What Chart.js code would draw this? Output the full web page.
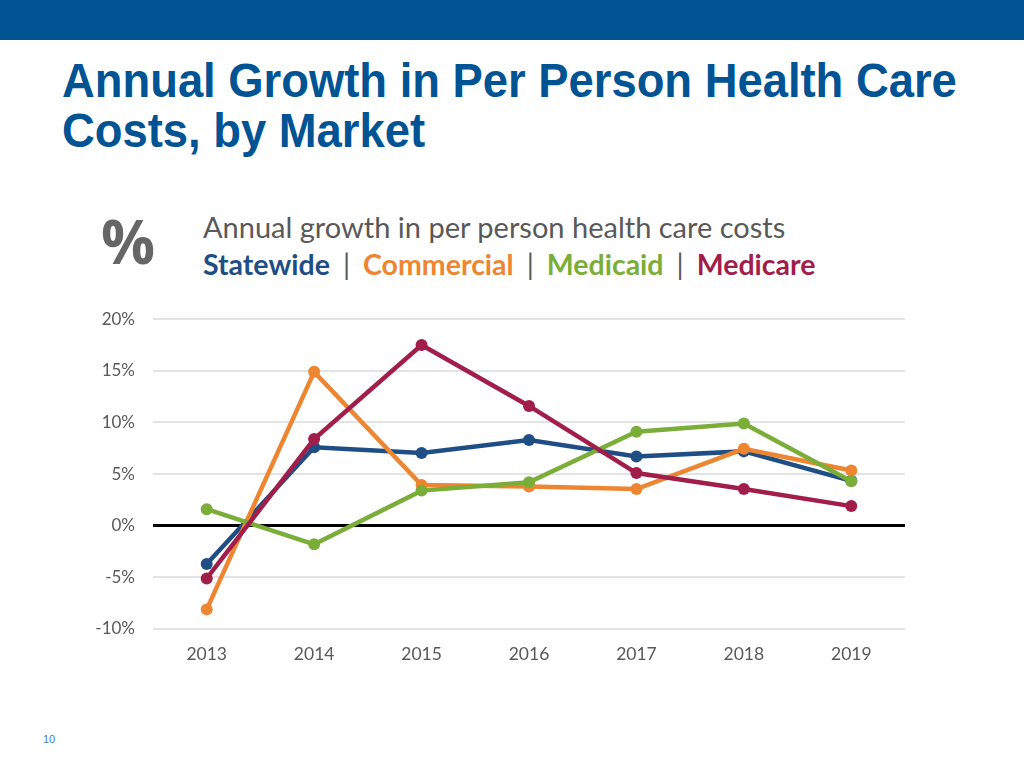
<!DOCTYPE html>
<html>
<head>
<meta charset="utf-8">
<script src="https://cdn.jsdelivr.net/npm/chart.js@4.4.1/dist/chart.umd.min.js"></script>
<style>
  html, body { margin: 0; padding: 0; background: #fff; }
  body { width: 1024px; height: 768px; position: relative; overflow: hidden; font-family: "Liberation Sans", Arial, sans-serif; }
  #band { position: absolute; left: 0; top: 0; width: 1024px; height: 40px; background: #005494; }
  #title { position: absolute; left: 62px; top: 56px; font-family: "Liberation Sans", Arial, sans-serif; font-weight: bold; font-size: 48px; line-height: 50px; color: #005494; margin: 0; transform: scaleX(0.945); transform-origin: left top; white-space: nowrap; }
  #pct { position: absolute; left: 101px; top: 201px; font-family: "Open Sans", sans-serif; font-weight: bold; font-size: 60px; color: #666; line-height: 80px; }
  #sub { position: absolute; left: 203px; top: 209px; font-family: Lato, "Open Sans", sans-serif; font-size: 29px; color: #595959; line-height: 36px; white-space: nowrap; }
  #leg { position: absolute; left: 203px; top: 246px; font-family: Lato, "Open Sans", sans-serif; font-size: 28.5px; font-weight: bold; line-height: 36px; color: #595959; white-space: nowrap; }
  #leg .sep { font-weight: normal; color: #595959; margin: 0 13px; }
  #page { position: absolute; left: 43px; top: 733px; font-size: 11px; color: #3a7dbf; }
  #wrap { position: absolute; left: 80px; top: 291px; width: 840px; height: 394px; }
</style>
</head>
<body>
<div id="band"></div>
<h1 id="title">Annual Growth in Per Person Health Care<br>Costs, by Market</h1>
<div id="pct">%</div>
<div id="sub">Annual growth in per person health care costs</div>
<div id="leg"><span style="color:#1F4E85">Statewide</span><span class="sep">|</span><span style="color:#EE8530">Commercial</span><span class="sep">|</span><span style="color:#7AAE38">Medicaid</span><span class="sep">|</span><span style="color:#A21E4A">Medicare</span></div>
<div id="page">10</div>
<div id="wrap"><canvas id="c"></canvas></div>
<script>
const years = ["2013", "2014", "2015", "2016", "2017", "2018", "2019"];
const statewide = [-3.7, 7.6, 7.05, 8.3, 6.7, 7.2, 4.35];
const commercial = [-8.1, 14.9, 3.95, 3.8, 3.55, 7.45, 5.35];
const medicaid = [1.6, -1.8, 3.4, 4.2, 9.1, 9.9, 4.3];
const medicare = [-5.1, 8.4, 17.5, 11.6, 5.1, 3.55, 1.9];
const yTicks = [-10, -5, 0, 5, 10, 15, 20];

function ds(label, data, color, order) {
  return { label, data, borderColor: color, backgroundColor: color, borderWidth: 4.5,
    pointRadius: 6, pointHoverRadius: 6, pointBorderWidth: 0, tension: 0, order };
}

new Chart(document.getElementById('c'), {
  type: 'line',
  data: {
    labels: years,
    datasets: [
      ds('Statewide', statewide, '#1F4E85', 4),
      ds('Commercial', commercial, '#EE8530', 3),
      ds('Medicaid', medicaid, '#7AAE38', 2),
      ds('Medicare', medicare, '#A21E4A', 1)
    ]
  },
  options: {
    responsive: true,
    maintainAspectRatio: false,
    animation: false,
    layout: { padding: { top: 9, right: 15, left: 0, bottom: 0 } },
    plugins: { legend: { display: false }, tooltip: { enabled: false } },
    scales: {
      x: {
        offset: true,
        grid: { display: false, drawTicks: false },
        border: { display: false },
        ticks: { color: '#595959', font: { family: 'Lato, "Open Sans", sans-serif', size: 17.5 }, padding: 15 },
        afterFit: s => { s.height = 56; }
      },
      y: {
        min: -10, max: 20,
        afterBuildTicks: s => { s.ticks = yTicks.map(v => ({ value: v })); },
        grid: {
          drawTicks: false,
          color: c => c.tick && c.tick.value === 0 ? '#000' : '#e3e3e3',
          lineWidth: c => c.tick && c.tick.value === 0 ? 3 : 2
        },
        border: { display: false },
        ticks: { color: '#595959', font: { family: 'Lato, "Open Sans", sans-serif', size: 17 }, padding: 18,
          callback: v => v + '%' },
        afterFit: s => { s.width = 73; }
      }
    }
  }
});
</script>
</body>
</html>
